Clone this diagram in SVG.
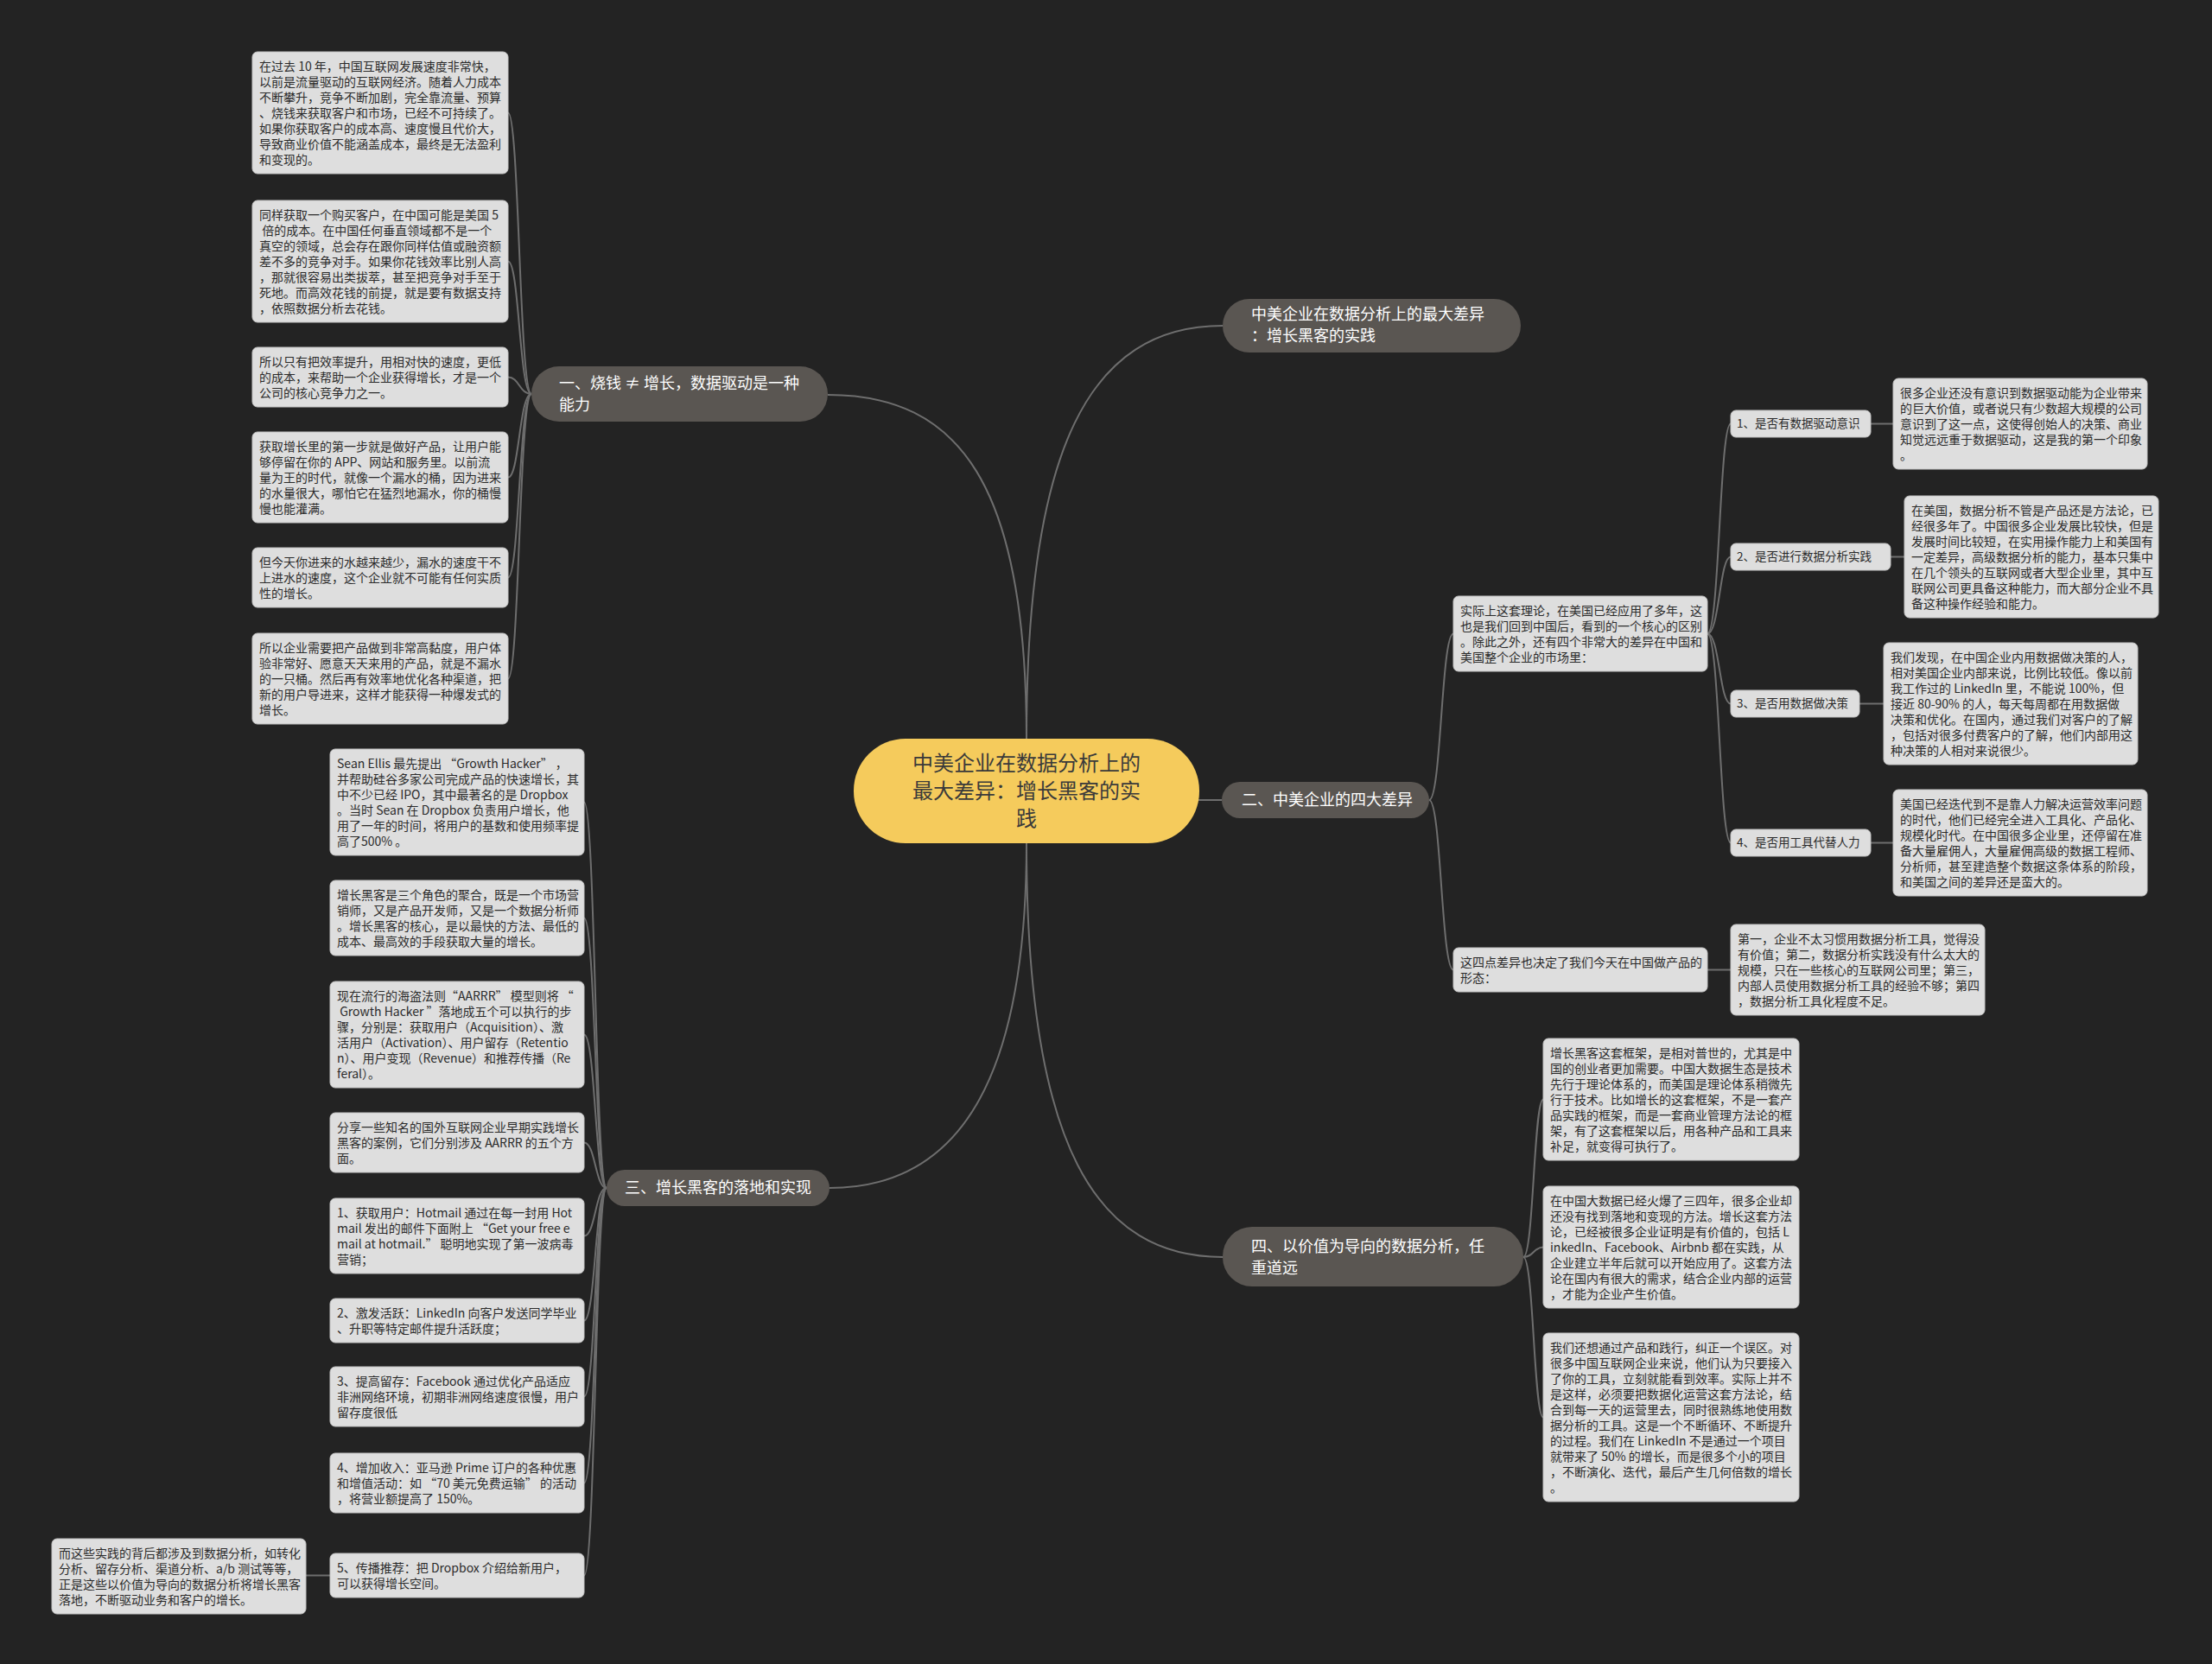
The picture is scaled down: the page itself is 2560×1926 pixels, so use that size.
<svg xmlns="http://www.w3.org/2000/svg" width="2560" height="1926" viewBox="0 0 2560 1926">
<style>
.bg{fill:#232323}
.lk{fill:none;stroke:#6e6e6e;stroke-width:2}
.leaf{fill:#dedede;stroke:#c4c4c4;stroke-width:1}
.lt{font-family:"Noto Sans CJK SC","Noto Sans",sans-serif;font-size:14px;fill:#2b2b2b}
.sn{fill:#dedede;stroke:#c4c4c4;stroke-width:1}
.st{font-family:"Noto Sans CJK SC","Noto Sans",sans-serif;font-size:13.5px;fill:#2b2b2b}
.br{fill:#5a5652}
.bt{font-family:"Noto Sans CJK SC","Noto Sans",sans-serif;font-size:18px;fill:#ffffff}
.ct{font-family:"Noto Sans CJK SC","Noto Sans",sans-serif;font-size:24px;fill:#3a3a3a}
</style>
<rect class="bg" x="0" y="0" width="2560" height="1926"/>
<g id="connectors">
<path class="lk" d="M1188 855 C1188 560 1110 457 958 457"/>
<path class="lk" d="M1188 855 C1188 520 1260 377 1415 377"/>
<path class="lk" d="M1380 926 L1414 926"/>
<path class="lk" d="M1188 976 C1188 1250 1110 1375 960 1375"/>
<path class="lk" d="M1188 976 C1188 1330 1270 1455 1415 1455"/>
<path class="lk" d="M615 456 C601 456 601 130.5 588 130.5"/>
<path class="lk" d="M615 456 C601 456 601 302.5 588 302.5"/>
<path class="lk" d="M615 456 C601 456 601 436.5 588 436.5"/>
<path class="lk" d="M615 456 C601 456 601 552.5 588 552.5"/>
<path class="lk" d="M615 456 C601 456 601 668.5 588 668.5"/>
<path class="lk" d="M615 456 C601 456 601 785.5 588 785.5"/>
<path class="lk" d="M702 1375 C689 1375 689 928.5 676 928.5"/>
<path class="lk" d="M702 1375 C689 1375 689 1062.5 676 1062.5"/>
<path class="lk" d="M702 1375 C689 1375 689 1197.5 676 1197.5"/>
<path class="lk" d="M702 1375 C689 1375 689 1322.5 676 1322.5"/>
<path class="lk" d="M702 1375 C689 1375 689 1430.5 676 1430.5"/>
<path class="lk" d="M702 1375 C689 1375 689 1528.5 676 1528.5"/>
<path class="lk" d="M702 1375 C689 1375 689 1616.5 676 1616.5"/>
<path class="lk" d="M702 1375 C689 1375 689 1716.5 676 1716.5"/>
<path class="lk" d="M702 1375 C689 1375 689 1823.5 676 1823.5"/>
<path class="lk" d="M382 1823.5 L354 1823.5"/>
<path class="lk" d="M1654 926 C1668 926 1668 733.5 1682 733.5"/>
<path class="lk" d="M1654 926 C1668 926 1668 1122.5 1682 1122.5"/>
<path class="lk" d="M1976 733.5 C1990 733.5 1990 490.5 2003 490.5"/>
<path class="lk" d="M1976 733.5 C1990 733.5 1990 644.5 2003 644.5"/>
<path class="lk" d="M1976 733.5 C1990 733.5 1990 814.5 2003 814.5"/>
<path class="lk" d="M1976 733.5 C1990 733.5 1990 975.5 2003 975.5"/>
<path class="lk" d="M2165 490.5 L2191 490.5"/>
<path class="lk" d="M2188 644.5 L2204 644.5"/>
<path class="lk" d="M2152 814.5 L2180 814.5"/>
<path class="lk" d="M2165 975.5 L2191 975.5"/>
<path class="lk" d="M1976 1122.5 L2003 1122.5"/>
<path class="lk" d="M1763 1455 C1775 1455 1775 1272.5 1786 1272.5"/>
<path class="lk" d="M1763 1455 C1775 1455 1775 1443.5 1786 1443.5"/>
<path class="lk" d="M1763 1455 C1775 1455 1775 1640.5 1786 1640.5"/>
</g>
<g id="center">
<rect x="988" y="855" width="400" height="121" rx="60" fill="#f5cb5c"/>
<text class="ct" text-anchor="middle"><tspan x="1188" y="892">中美企业在数据分析上的</tspan><tspan x="1188" y="924">最大差异：增长黑客的实</tspan><tspan x="1188" y="956">践</tspan></text>
</g>
<g id="branch-top">
<rect class="br" x="1415" y="346" width="345" height="62" rx="31"/>
<text class="bt"><tspan x="1448" y="370">中美企业在数据分析上的最大差异</tspan><tspan x="1448" y="395">：增长黑客的实践</tspan></text>
</g>
<g id="branch-1">
<rect class="br" x="615" y="424" width="343" height="64" rx="32"/>
<text class="bt"><tspan x="647" y="450">一、烧钱 ≠ 增长，数据驱动是一种</tspan><tspan x="647" y="475">能力</tspan></text>
</g>
<g id="branch-2">
<rect class="br" x="1414" y="905" width="240" height="42" rx="21"/>
<text class="bt"><tspan x="1437" y="932">二、中美企业的四大差异</tspan></text>
</g>
<g id="branch-3">
<rect class="br" x="702" y="1354" width="258" height="42" rx="21"/>
<text class="bt"><tspan x="723" y="1381">三、增长黑客的落地和实现</tspan></text>
</g>
<g id="branch-4">
<rect class="br" x="1415" y="1420" width="348" height="69" rx="34"/>
<text class="bt"><tspan x="1448" y="1449">四、以价值为导向的数据分析，任</tspan><tspan x="1448" y="1474">重道远</tspan></text>
</g>
<g id="b1-leaf1">
<rect class="leaf" x="292" y="60" width="296" height="141" rx="6"/>
<text class="lt"><tspan x="300" y="82">在过去 10 年，中国互联网发展速度非常快，</tspan><tspan x="300" dy="18">以前是流量驱动的互联网经济。随着人力成本</tspan><tspan x="300" dy="18">不断攀升，竞争不断加剧，完全靠流量、预算</tspan><tspan x="300" dy="18">、烧钱来获取客户和市场，已经不可持续了。</tspan><tspan x="300" dy="18">如果你获取客户的成本高、速度慢且代价大，</tspan><tspan x="300" dy="18">导致商业价值不能涵盖成本，最终是无法盈利</tspan><tspan x="300" dy="18">和变现的。</tspan></text>
</g>
<g id="b1-leaf2">
<rect class="leaf" x="292" y="232" width="296" height="141" rx="6"/>
<text class="lt"><tspan x="300" y="254">同样获取一个购买客户，在中国可能是美国 5</tspan><tspan x="300" dy="18"> 倍的成本。在中国任何垂直领域都不是一个</tspan><tspan x="300" dy="18">真空的领域，总会存在跟你同样估值或融资额</tspan><tspan x="300" dy="18">差不多的竞争对手。如果你花钱效率比别人高</tspan><tspan x="300" dy="18">，那就很容易出类拔萃，甚至把竞争对手至于</tspan><tspan x="300" dy="18">死地。而高效花钱的前提，就是要有数据支持</tspan><tspan x="300" dy="18">，依照数据分析去花钱。</tspan></text>
</g>
<g id="b1-leaf3">
<rect class="leaf" x="292" y="402" width="296" height="69" rx="6"/>
<text class="lt"><tspan x="300" y="424">所以只有把效率提升，用相对快的速度，更低</tspan><tspan x="300" dy="18">的成本，来帮助一个企业获得增长，才是一个</tspan><tspan x="300" dy="18">公司的核心竞争力之一。</tspan></text>
</g>
<g id="b1-leaf4">
<rect class="leaf" x="292" y="500" width="296" height="105" rx="6"/>
<text class="lt"><tspan x="300" y="522">获取增长里的第一步就是做好产品，让用户能</tspan><tspan x="300" dy="18">够停留在你的 APP、网站和服务里。以前流</tspan><tspan x="300" dy="18">量为王的时代，就像一个漏水的桶，因为进来</tspan><tspan x="300" dy="18">的水量很大，哪怕它在猛烈地漏水，你的桶慢</tspan><tspan x="300" dy="18">慢也能灌满。</tspan></text>
</g>
<g id="b1-leaf5">
<rect class="leaf" x="292" y="634" width="296" height="69" rx="6"/>
<text class="lt"><tspan x="300" y="656">但今天你进来的水越来越少，漏水的速度干不</tspan><tspan x="300" dy="18">上进水的速度，这个企业就不可能有任何实质</tspan><tspan x="300" dy="18">性的增长。</tspan></text>
</g>
<g id="b1-leaf6">
<rect class="leaf" x="292" y="733" width="296" height="105" rx="6"/>
<text class="lt"><tspan x="300" y="755">所以企业需要把产品做到非常高黏度，用户体</tspan><tspan x="300" dy="18">验非常好、愿意天天来用的产品，就是不漏水</tspan><tspan x="300" dy="18">的一只桶。然后再有效率地优化各种渠道，把</tspan><tspan x="300" dy="18">新的用户导进来，这样才能获得一种爆发式的</tspan><tspan x="300" dy="18">增长。</tspan></text>
</g>
<g id="b3-leaf-a">
<rect class="leaf" x="382" y="867" width="294" height="123" rx="6"/>
<text class="lt"><tspan x="390" y="889">Sean Ellis 最先提出 “Growth Hacker” ，</tspan><tspan x="390" dy="18">并帮助硅谷多家公司完成产品的快速增长，其</tspan><tspan x="390" dy="18">中不少已经 IPO，其中最著名的是 Dropbox</tspan><tspan x="390" dy="18">。当时 Sean 在 Dropbox 负责用户增长，他</tspan><tspan x="390" dy="18">用了一年的时间，将用户的基数和使用频率提</tspan><tspan x="390" dy="18">高了500% 。</tspan></text>
</g>
<g id="b3-leaf-b">
<rect class="leaf" x="382" y="1019" width="294" height="87" rx="6"/>
<text class="lt"><tspan x="390" y="1041">增长黑客是三个角色的聚合，既是一个市场营</tspan><tspan x="390" dy="18">销师，又是产品开发师，又是一个数据分析师</tspan><tspan x="390" dy="18">。增长黑客的核心，是以最快的方法、最低的</tspan><tspan x="390" dy="18">成本、最高效的手段获取大量的增长。</tspan></text>
</g>
<g id="b3-leaf-c">
<rect class="leaf" x="382" y="1136" width="294" height="123" rx="6"/>
<text class="lt"><tspan x="390" y="1158">现在流行的海盗法则“AARRR” 模型则将 “</tspan><tspan x="390" dy="18"> Growth Hacker ”落地成五个可以执行的步</tspan><tspan x="390" dy="18">骤，分别是：获取用户（Acquisition）、激</tspan><tspan x="390" dy="18">活用户（Activation）、用户留存（Retentio</tspan><tspan x="390" dy="18">n）、用户变现（Revenue）和推荐传播（Re</tspan><tspan x="390" dy="18">feral）。</tspan></text>
</g>
<g id="b3-leaf-d">
<rect class="leaf" x="382" y="1288" width="294" height="69" rx="6"/>
<text class="lt"><tspan x="390" y="1310">分享一些知名的国外互联网企业早期实践增长</tspan><tspan x="390" dy="18">黑客的案例，它们分别涉及 AARRR 的五个方</tspan><tspan x="390" dy="18">面。</tspan></text>
</g>
<g id="b3-leaf-e">
<rect class="leaf" x="382" y="1387" width="294" height="87" rx="6"/>
<text class="lt"><tspan x="390" y="1409">1、获取用户：Hotmail 通过在每一封用 Hot</tspan><tspan x="390" dy="18">mail 发出的邮件下面附上 “Get your free e</tspan><tspan x="390" dy="18">mail at hotmail.” 聪明地实现了第一波病毒</tspan><tspan x="390" dy="18">营销；</tspan></text>
</g>
<g id="b3-leaf-f">
<rect class="leaf" x="382" y="1503" width="294" height="51" rx="6"/>
<text class="lt"><tspan x="390" y="1525">2、激发活跃：LinkedIn 向客户发送同学毕业</tspan><tspan x="390" dy="18">、升职等特定邮件提升活跃度；</tspan></text>
</g>
<g id="b3-leaf-g">
<rect class="leaf" x="382" y="1582" width="294" height="69" rx="6"/>
<text class="lt"><tspan x="390" y="1604">3、提高留存：Facebook 通过优化产品适应</tspan><tspan x="390" dy="18">非洲网络环境，初期非洲网络速度很慢，用户</tspan><tspan x="390" dy="18">留存度很低</tspan></text>
</g>
<g id="b3-leaf-h">
<rect class="leaf" x="382" y="1682" width="294" height="69" rx="6"/>
<text class="lt"><tspan x="390" y="1704">4、增加收入：亚马逊 Prime 订户的各种优惠</tspan><tspan x="390" dy="18">和增值活动：如 “70 美元免费运输” 的活动</tspan><tspan x="390" dy="18">，将营业额提高了 150%。</tspan></text>
</g>
<g id="b3-leaf-i">
<rect class="leaf" x="382" y="1798" width="294" height="51" rx="6"/>
<text class="lt"><tspan x="390" y="1820">5、传播推荐：把 Dropbox 介绍给新用户，</tspan><tspan x="390" dy="18">可以获得增长空间。</tspan></text>
</g>
<g id="b3-leaf-i-child">
<rect class="leaf" x="60" y="1781" width="294" height="87" rx="6"/>
<text class="lt"><tspan x="68" y="1803">而这些实践的背后都涉及到数据分析，如转化</tspan><tspan x="68" dy="18">分析、留存分析、渠道分析、a/b 测试等等，</tspan><tspan x="68" dy="18">正是这些以价值为导向的数据分析将增长黑客</tspan><tspan x="68" dy="18">落地，不断驱动业务和客户的增长。</tspan></text>
</g>
<g id="b2-theory">
<rect class="leaf" x="1682" y="690" width="294" height="87" rx="6"/>
<text class="lt"><tspan x="1690" y="712">实际上这套理论，在美国已经应用了多年，这</tspan><tspan x="1690" dy="18">也是我们回到中国后，看到的一个核心的区别</tspan><tspan x="1690" dy="18">。除此之外，还有四个非常大的差异在中国和</tspan><tspan x="1690" dy="18">美国整个企业的市场里：</tspan></text>
</g>
<g id="b2-diff1">
<rect class="sn" x="2003" y="475" width="162" height="31" rx="6"/>
<text class="st"><tspan x="2010" y="495">1、是否有数据驱动意识</tspan></text>
</g>
<g id="b2-diff2">
<rect class="sn" x="2003" y="629" width="185" height="31" rx="6"/>
<text class="st"><tspan x="2010" y="649">2、是否进行数据分析实践</tspan></text>
</g>
<g id="b2-diff3">
<rect class="sn" x="2003" y="799" width="149" height="31" rx="6"/>
<text class="st"><tspan x="2010" y="819">3、是否用数据做决策</tspan></text>
</g>
<g id="b2-diff4">
<rect class="sn" x="2003" y="960" width="162" height="31" rx="6"/>
<text class="st"><tspan x="2010" y="980">4、是否用工具代替人力</tspan></text>
</g>
<g id="b2-diff1-leaf">
<rect class="leaf" x="2191" y="438" width="294" height="105" rx="6"/>
<text class="lt"><tspan x="2199" y="460">很多企业还没有意识到数据驱动能为企业带来</tspan><tspan x="2199" dy="18">的巨大价值，或者说只有少数超大规模的公司</tspan><tspan x="2199" dy="18">意识到了这一点，这使得创始人的决策、商业</tspan><tspan x="2199" dy="18">知觉远远重于数据驱动，这是我的第一个印象</tspan><tspan x="2199" dy="18">。</tspan></text>
</g>
<g id="b2-diff2-leaf">
<rect class="leaf" x="2204" y="574" width="294" height="141" rx="6"/>
<text class="lt"><tspan x="2212" y="596">在美国，数据分析不管是产品还是方法论，已</tspan><tspan x="2212" dy="18">经很多年了。中国很多企业发展比较快，但是</tspan><tspan x="2212" dy="18">发展时间比较短，在实用操作能力上和美国有</tspan><tspan x="2212" dy="18">一定差异，高级数据分析的能力，基本只集中</tspan><tspan x="2212" dy="18">在几个领头的互联网或者大型企业里，其中互</tspan><tspan x="2212" dy="18">联网公司更具备这种能力，而大部分企业不具</tspan><tspan x="2212" dy="18">备这种操作经验和能力。</tspan></text>
</g>
<g id="b2-diff3-leaf">
<rect class="leaf" x="2180" y="744" width="294" height="141" rx="6"/>
<text class="lt"><tspan x="2188" y="766">我们发现，在中国企业内用数据做决策的人，</tspan><tspan x="2188" dy="18">相对美国企业内部来说，比例比较低。像以前</tspan><tspan x="2188" dy="18">我工作过的 LinkedIn 里，不能说 100%，但</tspan><tspan x="2188" dy="18">接近 80-90% 的人，每天每周都在用数据做</tspan><tspan x="2188" dy="18">决策和优化。在国内，通过我们对客户的了解</tspan><tspan x="2188" dy="18">，包括对很多付费客户的了解，他们内部用这</tspan><tspan x="2188" dy="18">种决策的人相对来说很少。</tspan></text>
</g>
<g id="b2-diff4-leaf">
<rect class="leaf" x="2191" y="914" width="294" height="123" rx="6"/>
<text class="lt"><tspan x="2199" y="936">美国已经迭代到不是靠人力解决运营效率问题</tspan><tspan x="2199" dy="18">的时代，他们已经完全进入工具化、产品化、</tspan><tspan x="2199" dy="18">规模化时代。在中国很多企业里，还停留在准</tspan><tspan x="2199" dy="18">备大量雇佣人，大量雇佣高级的数据工程师、</tspan><tspan x="2199" dy="18">分析师，甚至建造整个数据这条体系的阶段，</tspan><tspan x="2199" dy="18">和美国之间的差异还是蛮大的。</tspan></text>
</g>
<g id="b2-form">
<rect class="leaf" x="1682" y="1097" width="294" height="51" rx="6"/>
<text class="lt"><tspan x="1690" y="1119">这四点差异也决定了我们今天在中国做产品的</tspan><tspan x="1690" dy="18">形态：</tspan></text>
</g>
<g id="b2-form-leaf">
<rect class="leaf" x="2003" y="1070" width="294" height="105" rx="6"/>
<text class="lt"><tspan x="2011" y="1092">第一，企业不太习惯用数据分析工具，觉得没</tspan><tspan x="2011" dy="18">有价值；第二，数据分析实践没有什么太大的</tspan><tspan x="2011" dy="18">规模，只在一些核心的互联网公司里；第三，</tspan><tspan x="2011" dy="18">内部人员使用数据分析工具的经验不够；第四</tspan><tspan x="2011" dy="18">，数据分析工具化程度不足。</tspan></text>
</g>
<g id="b4-leaf1">
<rect class="leaf" x="1786" y="1202" width="296" height="141" rx="6"/>
<text class="lt"><tspan x="1794" y="1224">增长黑客这套框架，是相对普世的，尤其是中</tspan><tspan x="1794" dy="18">国的创业者更加需要。中国大数据生态是技术</tspan><tspan x="1794" dy="18">先行于理论体系的，而美国是理论体系稍微先</tspan><tspan x="1794" dy="18">行于技术。比如增长的这套框架，不是一套产</tspan><tspan x="1794" dy="18">品实践的框架，而是一套商业管理方法论的框</tspan><tspan x="1794" dy="18">架，有了这套框架以后，用各种产品和工具来</tspan><tspan x="1794" dy="18">补足，就变得可执行了。</tspan></text>
</g>
<g id="b4-leaf2">
<rect class="leaf" x="1786" y="1373" width="296" height="141" rx="6"/>
<text class="lt"><tspan x="1794" y="1395">在中国大数据已经火爆了三四年，很多企业却</tspan><tspan x="1794" dy="18">还没有找到落地和变现的方法。增长这套方法</tspan><tspan x="1794" dy="18">论，已经被很多企业证明是有价值的，包括 L</tspan><tspan x="1794" dy="18">inkedIn、Facebook、Airbnb 都在实践，从</tspan><tspan x="1794" dy="18">企业建立半年后就可以开始应用了。这套方法</tspan><tspan x="1794" dy="18">论在国内有很大的需求，结合企业内部的运营</tspan><tspan x="1794" dy="18">，才能为企业产生价值。</tspan></text>
</g>
<g id="b4-leaf3">
<rect class="leaf" x="1786" y="1543" width="296" height="195" rx="6"/>
<text class="lt"><tspan x="1794" y="1565">我们还想通过产品和践行，纠正一个误区。对</tspan><tspan x="1794" dy="18">很多中国互联网企业来说，他们认为只要接入</tspan><tspan x="1794" dy="18">了你的工具，立刻就能看到效率。实际上并不</tspan><tspan x="1794" dy="18">是这样，必须要把数据化运营这套方法论，结</tspan><tspan x="1794" dy="18">合到每一天的运营里去，同时很熟练地使用数</tspan><tspan x="1794" dy="18">据分析的工具。这是一个不断循环、不断提升</tspan><tspan x="1794" dy="18">的过程。我们在 LinkedIn 不是通过一个项目</tspan><tspan x="1794" dy="18">就带来了 50% 的增长，而是很多个小的项目</tspan><tspan x="1794" dy="18">，不断演化、迭代，最后产生几何倍数的增长</tspan><tspan x="1794" dy="18">。</tspan></text>
</g>
</svg>
